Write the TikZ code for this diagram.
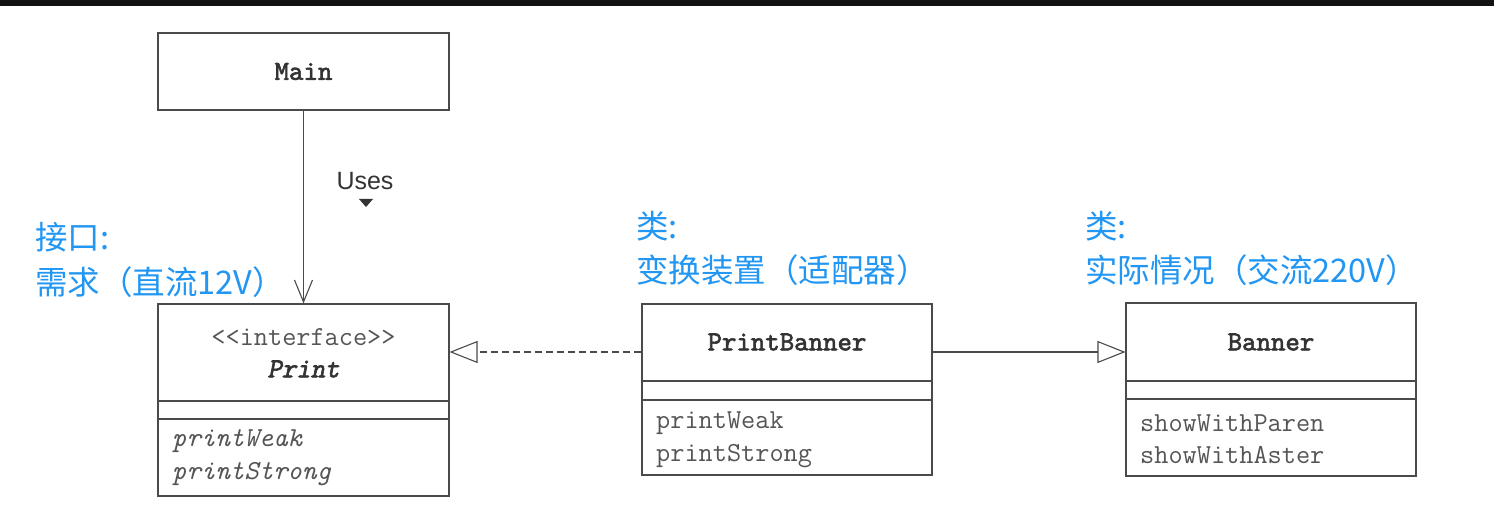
\documentclass[tikz,border=0pt]{standalone}
\usepackage{fontspec}
\setmainfont{Liberation Sans}
\newfontfamily\cjk{Noto Sans CJK SC}
\newfontfamily\titlemono[FakeBold=2.2]{lmmono10-regular.otf}
\newfontfamily\titlemonoit[FakeBold=2.2, FakeSlant=0.2]{lmmono10-regular.otf}
\usetikzlibrary{arrows.meta,calc}
\definecolor{lineg}{HTML}{4A4A4A}
\definecolor{textd}{HTML}{333333}
\definecolor{textm}{HTML}{555555}
\definecolor{noteblue}{HTML}{2196F3}
\newcommand{\mfont}{\fontsize{27.5}{30}\selectfont\ttfamily}
\newcommand{\tfont}{\fontsize{27.5}{30}\selectfont\titlemono}
\tikzset{
  box/.style={draw=lineg, line width=1.1pt, fill=white, inner sep=0pt},
  title/.style={font=\tfont, text=textd},
  meth/.style={font=\mfont, text=textm, anchor=west, inner sep=0pt},
  divider/.style={draw=lineg, line width=1.1pt},
  note/.style={font=\fontsize{32.5}{36}\selectfont\cjk, text=noteblue, anchor=west, inner sep=0pt},
  opentri/.style={-{Triangle[open, length=28pt, width=22pt, fill=white]}},
  usesline/.style={draw=lineg, line width=1.1pt, -{Straight Barb[length=22pt, width=18pt, line width=1.1pt]}},
  realline/.style={draw=lineg, line width=1.1pt, opentri},
  dashline/.style={draw=lineg, line width=1.1pt, dash pattern=on 7pt off 4pt, opentri}
}
\begin{document}
\begin{tikzpicture}[x=1pt,y=-1pt]
\useasboundingbox (0,0) rectangle (1494,510);
\fill[white] (0,0) rectangle (1494,510);
\fill[black!93] (0,0) rectangle (1494,6);

% Main
\node[box, minimum width=291pt, minimum height=77pt, title] (main) at (303.5,71.5) {Main};

% Print interface
\node[box, minimum width=291pt, minimum height=192pt] (print) at (303.5,400) {};
\draw[divider] (158,401) -- (449,401);
\draw[divider] (158,419) -- (449,419);
\node[font=\mfont, text=textm, inner sep=0pt] (printst) at (303.5,337) {<<interface>>};
\node[title, font=\fontsize{27.5}{30}\selectfont\titlemonoit, inner sep=0pt] (printt) at (303.5,369) {Print};
\node[meth, font=\mfont\itshape] (pw1) at (172,441) {printWeak};
\node[meth, font=\mfont\itshape] (ps1) at (172,474) {printStrong};

% PrintBanner
\node[box, minimum width=290pt, minimum height=171pt] (pb) at (787,389.5) {};
\draw[divider] (642,381) -- (932,381);
\draw[divider] (642,400) -- (932,400);
\node[title, inner sep=0pt] (pbt) at (787,342) {PrintBanner};
\node[meth] (pw2) at (656,423) {printWeak};
\node[meth] (ps2) at (656,456) {printStrong};

% Banner
\node[box, minimum width=290pt, minimum height=173pt] (ban) at (1271,389.5) {};
\draw[divider] (1126,381) -- (1416,381);
\draw[divider] (1126,399) -- (1416,399);
\node[title, inner sep=0pt] (bant) at (1271,342) {Banner};
\node[meth] (sw1) at (1140,423) {showWithParen};
\node[meth] (sw2) at (1140,455) {showWithAster};

% connectors
\coordinate (ay) at (0,352);
\draw[usesline] (main.south) -- (print.north);
\node[font=\fontsize{25}{28}\selectfont, text=textd, inner sep=0pt] (uses) at (365,181) {Uses};
\fill[textd] (359,199) -- (373,199) -- (366,207) -- cycle;
\draw[dashline] (pb.west |- ay) -- (print.east |- ay);
\draw[realline] (pb.east |- ay) -- (ban.west |- ay);

% notes
\node[note] (n1a) at (35,237) {接口:};
\node[note] (n1b) at (35,282) {需求（直流12V）};
\node[note] (n2a) at (636,226) {类:};
\node[note] (n2b) at (636,270) {变换装置（适配器）};
\node[note] (n3a) at (1085,226) {类:};
\node[note] (n3b) at (1085,270) {实际情况（交流220V）};
\end{tikzpicture}
\end{document}
